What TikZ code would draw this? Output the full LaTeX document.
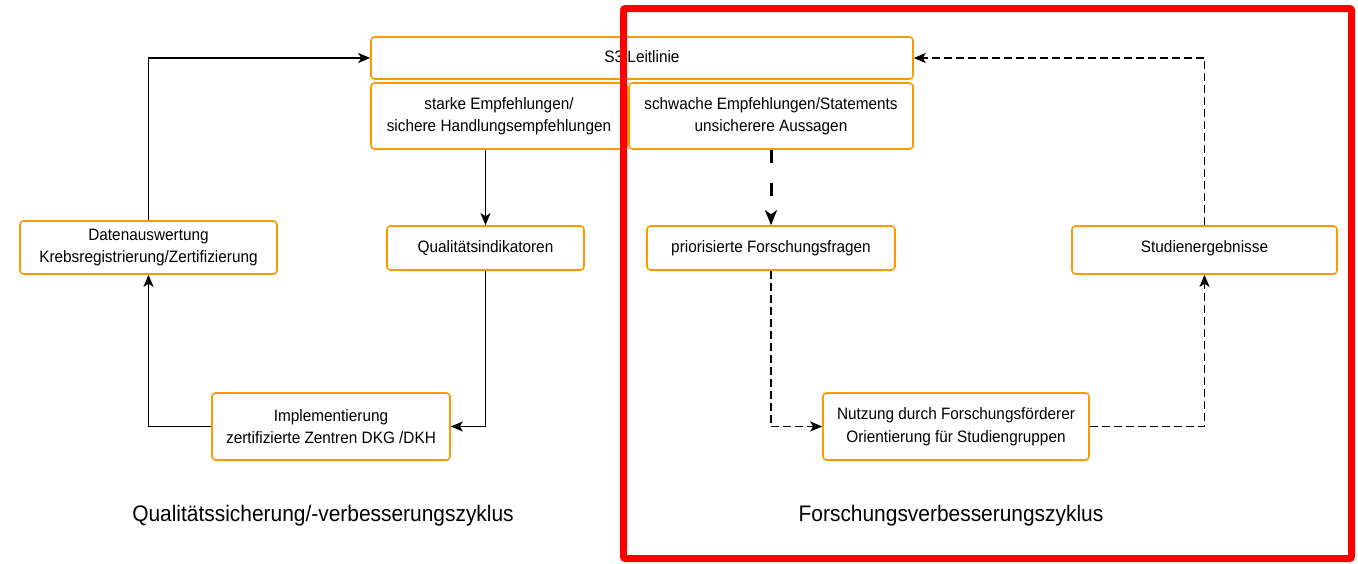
\documentclass[tikz,border=0pt]{standalone}
\usepackage{fontspec}
\setmainfont[FakeStretch=0.93]{Liberation Sans}
\usetikzlibrary{arrows.meta}
\definecolor{boxorange}{RGB}{255,153,0}
\definecolor{framered}{RGB}{255,0,0}
\tikzset{
  box/.style={draw=boxorange, line width=1.6pt, rounded corners=3.5pt, fill=white,
    align=center, inner sep=0pt, font=\fontsize{16.5}{22.5}\selectfont},
  conn/.style={line width=1.5pt, -{Stealth[length=12pt,width=10pt,inset=3pt]}},
  dconn/.style={conn, dash pattern=on 8pt off 4pt},
  tconn/.style={line width=3pt, dash pattern=on 13pt off 20pt, -{Stealth[length=15pt,width=12pt,inset=4pt]}},
  cyclelabel/.style={font=\fontsize{22.5}{26}\selectfont, inner sep=0pt}
}
\begin{document}
\begin{tikzpicture}[x=1pt,y=-1pt]
\useasboundingbox (0,0) rectangle (1358,563);
% nodes
\node[box, minimum width=542pt, minimum height=42pt] (s3) at (642,58) {\raisebox{2pt}{S3 Leitlinie}};
\node[box, minimum width=256pt, minimum height=66pt] (starke) at (499,116) {starke Empfehlungen/\\sichere Handlungsempfehlungen};
\node[box, minimum width=284pt, minimum height=66pt] (schwache) at (771,116) {schwache Empfehlungen/Statements\\unsicherere Aussagen};
\node[box, minimum width=257pt, minimum height=53pt] (daten) at (148.5,247.5) {Datenauswertung\\Krebsregistrierung/Zertifizierung};
\node[box, minimum width=197pt, minimum height=44pt] (qual) at (485.5,248) {Qualitätsindikatoren};
\node[box, minimum width=238pt, minimum height=67pt] (impl) at (331,426.5) {Implementierung\\zertifizierte Zentren DKG /DKH};
\node[box, minimum width=248pt, minimum height=44pt] (prior) at (771,248) {priorisierte Forschungsfragen};
\node[box, minimum width=265pt, minimum height=48pt] (studien) at (1204.5,250) {\raisebox{6pt}{Studienergebnisse}};
\node[box, minimum width=266pt, minimum height=67pt] (nutzung) at (956,426.5) {Nutzung durch Forschungsförderer\\Orientierung für Studiengruppen};
% labels
\node[cyclelabel] (qlabel) at (323,516) {Qualitätssicherung/-verbesserungszyklus};
\node[cyclelabel] (flabel) at (951,516) {Forschungsverbesserungszyklus};
% connectors left cycle
\draw[conn] (qual.north |- starke.south) -- (qual.north);
\draw[conn] (qual.south) |- (impl.east);
\draw[conn] (impl.west) -| (daten.south);
\draw[conn] (daten.north) |- (s3.west);
% connectors right cycle
\draw[tconn] (prior.north |- schwache.south) -- (prior.north);
\draw[dconn] (prior.south) |- (nutzung.west);
\draw[dconn] (nutzung.east) -| (studien.south);
\draw[dconn] (studien.north) |- (s3.east);
% red frame
\draw[framered, line width=7pt, rounded corners=2pt] (623.5,8.5) rectangle (1351.5,558.5);
\end{tikzpicture}
\end{document}
